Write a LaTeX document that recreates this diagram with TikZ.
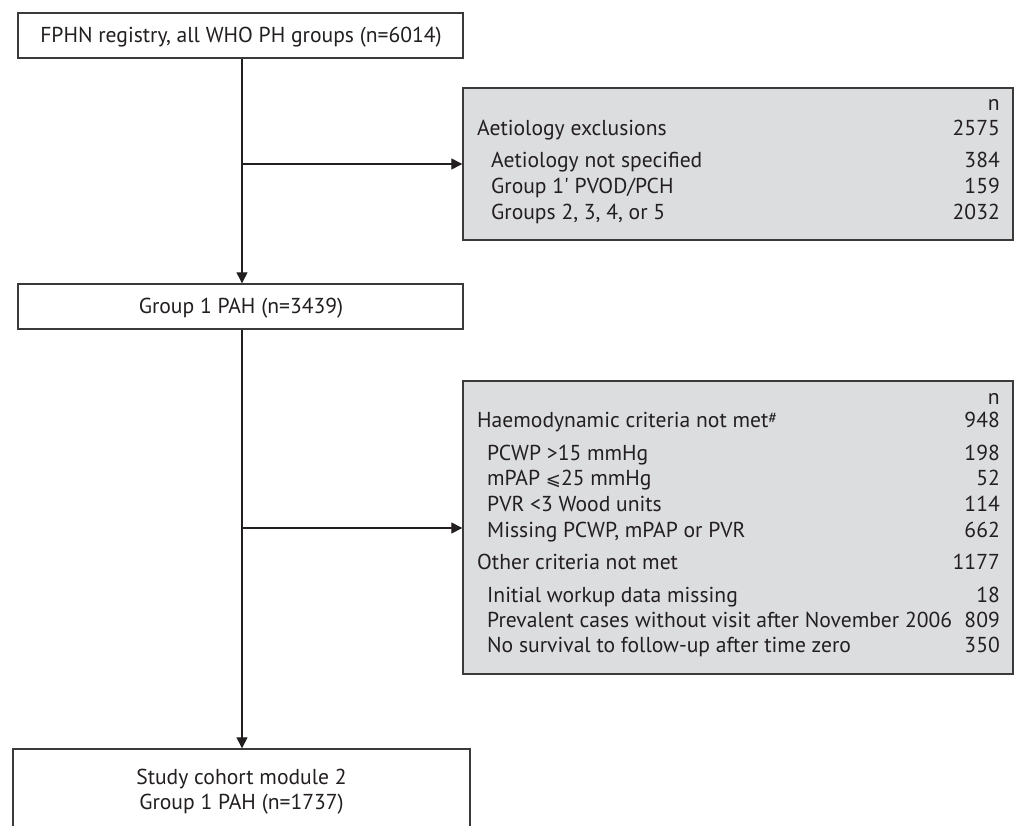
\documentclass[tikz,border=0pt]{standalone}
\usepackage{fontspec}
\setmainfont{PT Sans}[Ligatures=TeXOff]
\newfontfamily\symfont{DejaVu Sans}
\usetikzlibrary{arrows.meta}
\definecolor{boxgray}{HTML}{DCDDDF}
\definecolor{edgegray}{HTML}{3A3A3A}
\definecolor{inkcol}{HTML}{231F20}
\tikzset{
  whitebox/.style={draw=edgegray, line width=1.4pt, fill=white, inner sep=0pt},
  graybox/.style={draw=edgegray, line width=1.4pt, fill=boxgray, inner sep=0pt},
  txt/.style={font=\fontsize{21.6}{26}\selectfont, text=inkcol, inner sep=0pt},
  lt/.style={txt, anchor=base west},
  rt/.style={txt, anchor=base east},
  arr/.style={draw=inkcol, line width=1.3pt, -{Triangle[length=11pt,width=11pt]}},
  ln/.style={draw=inkcol, line width=1.3pt}
}
\begin{document}
\begin{tikzpicture}[x=1pt,y=-1pt]
\useasboundingbox (0,0) rectangle (1017,825);
\clip (0,0) rectangle (1017,825);
\fill[white] (0,0) rectangle (1017,825);
% main boxes
\node[whitebox, minimum width=445pt, minimum height=45pt] (top) at (240.5,35.5) {};
\node[txt, anchor=base] (toptext) at (241,42.5) {FPHN registry, all WHO PH groups (n=6014)};
\node[whitebox, minimum width=445pt, minimum height=45pt] (pah) at (240.5,306.5) {};
\node[txt, anchor=base] (pahtext) at (241,313.5) {Group 1 PAH (n=3439)};
\node[whitebox, minimum width=457pt, minimum height=101pt] (cohort) at (241.5,799.5) {};
\node[txt, anchor=base] (coh1) at (241.5,784) {Study cohort module 2};
\node[txt, anchor=base] (coh2) at (241.5,809) {Group 1 PAH (n=1737)};
% gray boxes
\node[graybox, minimum width=550pt, minimum height=152pt] (g1) at (738,164) {};
\node[graybox, minimum width=550pt, minimum height=293pt] (g2) at (738,527.5) {};
% g1 text
\node[rt] (g1n) at (1000,110) {n};
\node[lt] (a0) at (477,135) {Aetiology exclusions};
\node[rt] (a0n) at (1000,135) {2575};
\node[lt] (a1) at (491,167) {Aetiology not specified};
\node[rt] (a1n) at (1000,167) {384};
\node[lt] (a2) at (491,193) {Group 1' PVOD/PCH};
\node[rt] (a2n) at (1000,193) {159};
\node[lt] (a3) at (491,219) {Groups 2, 3, 4, or 5};
\node[rt] (a3n) at (1000,219) {2032};
% g2 text
\node[rt] (g2n) at (1000,404) {n};
\node[lt] (h0) at (477,427) {Haemodynamic criteria not met\raisebox{4pt}{\fontsize{16}{16}\selectfont\#}};
\node[rt] (h0n) at (1000,427) {948};
\node[lt] (h1) at (487,460) {PCWP >15 mmHg};
\node[rt] (h1n) at (1000,460) {198};
\node[lt] (h2) at (487,485) {mPAP {\symfont\fontsize{18}{20}\selectfont ⩽}25 mmHg};
\node[rt] (h2n) at (1000,485) {52};
\node[lt] (h3) at (487,511) {PVR <3 Wood units};
\node[rt] (h3n) at (1000,511) {114};
\node[lt] (h4) at (487,537) {Missing PCWP, mPAP or PVR};
\node[rt] (h4n) at (1000,537) {662};
\node[lt] (o0) at (477,569) {Other criteria not met};
\node[rt] (o0n) at (1000,569) {1177};
\node[lt] (o1) at (487,602) {Initial workup data missing};
\node[rt] (o1n) at (1000,602) {18};
\node[lt] (o2) at (487,627) {Prevalent cases without visit after November 2006};
\node[rt] (o2n) at (1000,627) {809};
\node[lt] (o3) at (487,652) {No survival to follow-up after time zero};
\node[rt] (o3n) at (1000,652) {350};
% connectors
\coordinate (split1) at (242,164);
\coordinate (split2) at (242,528);
\draw[arr] (top.south -| split1) -- (pah.north -| split1);
\draw[arr] (split1) -- (split1 -| g1.west);
\draw[arr] (pah.south -| split1) -- (cohort.north -| split1);
\draw[arr] (split2) -- (split2 -| g2.west);
\end{tikzpicture}
\end{document}
